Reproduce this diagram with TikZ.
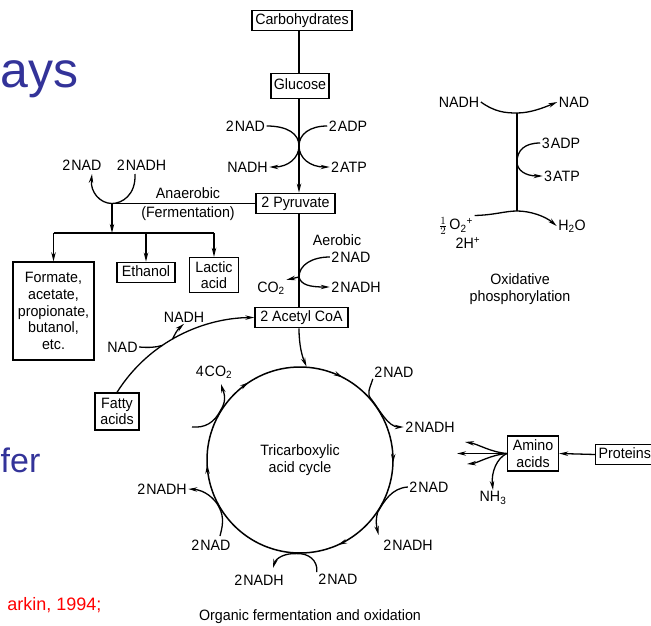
\documentclass[tikz,border=0pt]{standalone}
\usepackage{fontspec}
\setmainfont{Liberation Sans}
\newfontfamily\labfont{Liberation Sans}[FakeStretch=0.95]
\usetikzlibrary{arrows.meta,decorations.markings}

\definecolor{slideblue}{RGB}{51,51,153}
\newcommand\labsize{\labfont\fontsize{15}{16.7}\selectfont}
\newcommand\slidebig{\fontsize{50}{60}\selectfont}
\newcommand\slidemid{\fontsize{34}{40}\selectfont}
\newcommand\slidesmall{\fontsize{18}{22}\selectfont}

\begin{document}
\begin{tikzpicture}[x=1pt, y=-1pt, line width=1.3pt, >={Stealth[length=9pt,width=4.4pt]},
    box/.style={draw, inner xsep=3pt, inner ysep=4pt, text height=10pt, text depth=2.5pt, font=\labsize},
    mbox/.style={draw, align=center, inner sep=2pt, font=\labsize},
    lab/.style={inner sep=1pt, font=\labsize},
    slide/.style={inner sep=0pt},
    cyc/.style={postaction={decorate}, decoration={markings,
        mark=at position 0.005 with {\arrow{>}},
        mark=at position 0.183 with {\arrow{>}},
        mark=at position 0.492 with {\arrow{>}},
        mark=at position 0.657 with {\arrow{>}},
        mark=at position 0.826 with {\arrow{>}}}}]
    \useasboundingbox (0,0) rectangle (651,626);

    % leftovers of the slide
    \node[slide, text=slideblue, font=\slidebig, anchor=base west] (ays) at (0,88) {ays};
    \node[slide, text=slideblue, font=\slidemid, anchor=base west] (fer) at (0,472) {fer};
    \node[slide, text=red, font=\slidesmall, anchor=base east] (ref) at (102,610) {arkin, 1994;};

    % main chain
    \node[box, minimum width=100pt] (carb) at (302,20.5) {Carbohydrates};
    \node[box, minimum width=58pt, minimum height=25pt] (gluc) at (300,86) {Glucose};
    \node[box, minimum width=79pt] (pyr) at (295.5,203.5) {2 Pyruvate};
    \node[box, minimum width=93pt] (acoa) at (301.5,317.5) {2 Acetyl CoA};
    \coordinate (mx) at (299,0);
    \draw (mx |- carb.south) -- (mx |- gluc.north);
    \draw[->] (mx |- gluc.south) -- (mx |- pyr.north);
    \draw (mx |- pyr.south) -- (mx |- acoa.north);

    % glycolysis
    \node[lab] (nadA) at (245.5,126) {2\kern1pt NAD};
    \node[lab] (adpA) at (348,126) {2\kern1pt ADP};
    \node[lab] (nadhA) at (247.5,167) {NADH};
    \node[lab] (atpA) at (349,167) {2\kern1pt ATP};
    \coordinate (gx) at (299,146);
    \draw[->] (nadA.east) .. controls (288,126) and (299,134) .. (gx) .. controls (299,158) and (288,167) .. (nadhA.east);
    \draw[->] (adpA.west) .. controls (310,126) and (299,134) .. (gx) .. controls (299,158) and (310,167) .. (atpA.west);

    % fermentation
    \coordinate (anj) at (112,203.5);
    \coordinate (split) at (112,233);
    \coordinate (tipF) at (92,174);
    \coordinate (outF) at (135,174);
    \node[lab] (ferm1) at (188,193) {Anaerobic};
    \node[lab] (ferm2) at (188,214) {(Fermentation)};
    \node[lab] (nadF) at (82,165) {2\kern1pt NAD};
    \node[lab] (nadhF) at (141.5,165) {2\kern1pt NADH};
    \draw (pyr.west) -- (anj);
    \draw[->] (outF) .. controls (136,195) and (122,203.5) .. (anj) .. controls (100,203.5) and (90,192) .. (tipF);
    \draw[->] (anj) -- (split);
    \node[mbox, minimum width=81pt, minimum height=98pt] (form) at (53.5,311) {Formate,\\acetate,\\propionate,\\butanol,\\etc.};
    \node[box, minimum width=58pt] (eth) at (146,272.5) {Ethanol};
    \node[mbox, minimum width=49pt, minimum height=35pt] (lac) at (214,275) {Lactic\\acid};
    \draw (form.north |- split) -- (lac.north |- split);
    \draw[->] (form.north |- split) -- (form.north);
    \draw[->] (eth.north |- split) -- (eth.north);
    \draw[->] (lac.north |- split) -- (lac.north);

    % aerobic
    \coordinate (aej) at (299,277);
    \node[lab] (aer) at (337,240) {Aerobic};
    \node[lab] (nadB) at (351,257) {2\kern1pt NAD};
    \node[lab] (nadhB) at (356,287) {2\kern1pt NADH};
    \node[lab] (co2B) at (271,288) {CO\textsubscript{2}};
    \draw (nadB.west) .. controls (312,257) and (299,265) .. (aej);
    \draw[->] (aej) -- (co2B.north east);
    \draw[->] (aej) .. controls (301,285) and (310,287) .. (nadhB.west);

    % fatty acids
    \node[mbox, minimum width=44pt, minimum height=37pt] (fatty) at (117,411.5) {Fatty\\acids};
    \node[lab] (nadC) at (122.5,347) {NAD};
    \node[lab] (nadhC) at (184,317) {NADH};
    \draw[->] (fatty.north) .. controls (150,340) and (205,318) .. (acoa.west) coordinate[pos=0.38] (fj1) coordinate[pos=0.45] (fj2);
    \draw (nadC.east) .. controls (150,348) and (157,347) .. (fj1);
    \draw[->] (fj2) .. controls (175,334) and (177,330) .. (nadhC.south);

    % TCA cycle
    \node[circle, minimum size=186pt, inner sep=0pt, align=center, font=\labsize] (tca) at (300,460) {Tricarboxylic\\acid cycle};
    \draw[cyc, line width=1.5pt] (tca.center) circle[radius=93];
    \draw[->] (mx |- acoa.south) .. controls (299,345) and (302,356) .. (tca.86);

    \node[lab] (co2C) at (214,372) {4\kern1pt CO\textsubscript{2}};
    \coordinate (inC) at (192,427);
    \coordinate (tipC) at (221,384);
    \draw[->] (inC) .. controls (205,428) and (214,423) .. (tca.148) .. controls (228,399) and (223,391) .. (tipC);

    \node[lab] (nad1) at (394,372) {2\kern1pt NAD};
    \node[lab] (nadh1) at (430,427) {2\kern1pt NADH};
    \draw[->] (nad1.south west) .. controls (370,388) and (366,394) .. (tca.40) .. controls (379,409) and (388,427) .. (nadh1.west);

    \node[lab] (nad2) at (429,487) {2\kern1pt NAD};
    \node[lab] (nadh2) at (408,545) {2\kern1pt NADH};
    \coordinate (tipR) at (378.5,535);
    \draw[->] (nad2.west) .. controls (392,488) and (384,501) .. (tca.-34) .. controls (375,522) and (377,528) .. (tipR);

    \node[lab] (nad3) at (338,579) {2\kern1pt NAD};
    \node[lab] (nadh3) at (259,580) {2\kern1pt NADH};
    \coordinate (tipB) at (273,568);
    \draw[->] (nad3.north west) .. controls (318,560) and (308,553) .. (tca.-92) .. controls (285,553) and (276,558) .. (tipB);

    \node[lab] (nadh4) at (162,489) {2\kern1pt NADH};
    \node[lab] (nad4) at (211,545) {2\kern1pt NAD};
    \coordinate (inL) at (220,536);
    \draw[->] (inL) .. controls (222,528) and (225,518) .. (tca.-150) .. controls (215,499) and (205,490) .. (nadh4.east);

    % amino acids
    \node[mbox, minimum width=51pt, minimum height=35pt] (amino) at (533,453.5) {Amino\\acids};
    \node[box, anchor=west] (prot) at (595,454.5) {Proteins};
    \draw[->] (prot.west) -- (amino.east);
    \node[lab] (nh3) at (493,498) {NH\textsubscript{3}};
    \coordinate (fanL) at (457,453.5);
    \coordinate (fanU) at (465,442);
    \coordinate (fanD) at (467,464);
    \draw[->] (amino.west) -- (fanL);
    \draw[->] (amino.west) .. controls (490,452) and (478,444) .. (fanU);
    \draw[->] (amino.west) .. controls (490,455) and (478,463) .. (fanD);
    \draw[->] (amino.west) .. controls (497,458) and (491,472) .. (nh3.north);

    % oxidative phosphorylation
    \node[lab] (nadhO) at (459,102) {NADH};
    \node[lab] (nadO) at (574,102) {NAD};
    \node[lab] (adpO) at (561,143) {3\kern1pt ADP};
    \node[lab] (atpO) at (562,176) {3\kern1pt ATP};
    \node[lab] (o2) at (456,226) {\(\frac{1}{2}\)\,O\textsubscript{2}\textsuperscript{+}};
    \node[lab] (hp) at (468,243) {2H\textsuperscript{+}};
    \node[lab] (h2o) at (572,226) {H\textsubscript{2}O};
    \node[lab, align=center] (oxp) at (520,289) {Oxidative\\phosphorylation};
    \coordinate (etop) at (517,113);
    \coordinate (emid) at (517,162);
    \coordinate (ebot) at (517,211);
    \draw (etop) -- (ebot);
    \draw[->] (nadhO.east) .. controls (495,112) and (505,113) .. (etop) .. controls (530,113) and (543,108) .. (nadO.west);
    \draw[->] (adpO.west) .. controls (525,143) and (517,150) .. (emid) .. controls (517,170) and (525,176) .. (atpO.west);
    \draw[->] (o2.north east) .. controls (495,215) and (505,211) .. (ebot) .. controls (530,211) and (545,216) .. (h2o.west);

    \node[lab] (cap) at (310,617) {Organic fermentation and oxidation};
\end{tikzpicture}
\end{document}
